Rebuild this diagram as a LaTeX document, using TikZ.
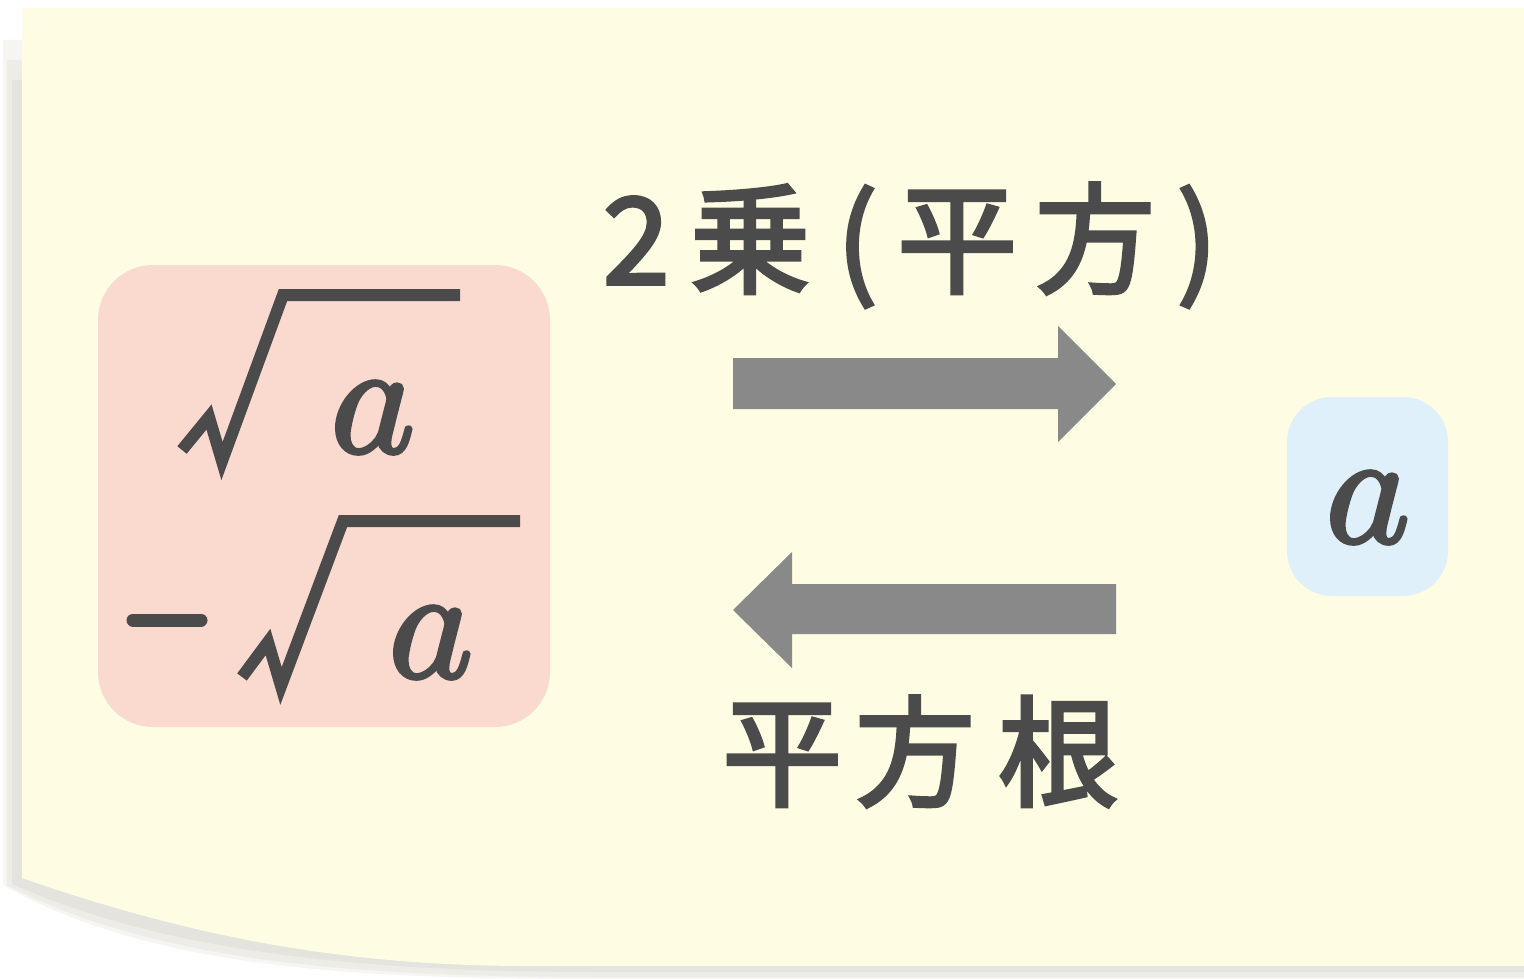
\documentclass[tikz,border=0pt]{standalone}
\usepackage{fontspec}
\newfontfamily\cjk[FakeBold=3]{Noto Sans CJK JP}
\newfontfamily\lmm[FakeBold=2.6]{Latin Modern Math}
\definecolor{paper}{HTML}{FEFCE3}
\definecolor{shadowA}{HTML}{E4E3DD}
\definecolor{shadowB}{HTML}{EDECE7}
\definecolor{shadowC}{HTML}{F6F5F2}
\definecolor{pinkbox}{HTML}{FAD9CF}
\definecolor{bluebox}{HTML}{DFF0FA}
\definecolor{ink}{HTML}{4B4B4B}
\definecolor{arrowgray}{HTML}{898989}
\tikzset{
  radical/.style={draw=ink, line width=12pt, line join=miter, miter limit=20},
  minusbar/.style={draw=ink, line width=13pt, line cap=round},
  var/.style={inner sep=0pt, text=ink, font=\lmm\fontsize{160}{160}\selectfont},
  jp/.style={inner sep=0pt, text=ink, font=\cjk\fontsize{120}{120}\selectfont},
  bigarrow/.style={fill=arrowgray, draw=none},
}
\begin{document}
\begin{tikzpicture}[x=1pt,y=-1pt]
\useasboundingbox (0,0) rectangle (1524,979);
\fill[white] (0,0) rectangle (1524,979);
% shadow
\fill[shadowC] (3,40) -- (3,885) .. controls (150,968) and (350,979) .. (600,979) -- (1524,979) -- (1524,40) -- cycle;
\fill[shadowB] (7,60) -- (7,885) .. controls (155,962) and (355,977) .. (600,977) -- (1524,977) -- (1524,60) -- cycle;
\fill[shadowA] (12,80) -- (12,884) .. controls (165,952) and (360,972) .. (600,972) -- (1524,972) -- (1524,80) -- cycle;
% paper
\fill[paper] (22,8) -- (1524,8) -- (1524,966) -- (520,966) .. controls (350,965) and (200,940) .. (22,878) -- cycle;
% boxes
\fill[pinkbox, rounded corners=55pt] (98,265) rectangle (550,727);
\fill[bluebox, rounded corners=45pt] (1287,397) rectangle (1448,596);
% left: sqrt a and -sqrt a
\draw[radical] (182,450) -- (209,417) -- (222,461) -- (283,295) -- (460,295);
\node[var, anchor=base] (a1) at (373,452) {𝑎};
\draw[minusbar] (133,620) -- (201,620);
\draw[radical] (242,677) -- (268,642) -- (281,686) -- (343,521) -- (520,521);
\node[var, anchor=base] (a2) at (431,677) {𝑎};
% right: a
\node[var, anchor=base] (a3) at (1368,542) {𝑎};
% arrows
\fill[bigarrow] (733,358) -- (1058,358) -- (1058,326) -- (1116,384) -- (1058,442) -- (1058,409) -- (733,409) -- cycle;
\fill[bigarrow] (1116,584) -- (792,584) -- (792,552) -- (733,610) -- (792,668) -- (792,634) -- (1116,634) -- cycle;
% labels
\node[jp, anchor=base west] (sq) at (636,284) {\makebox[0pt]{2}\hspace{114pt}\makebox[0pt]{乗}\hspace{107pt}\makebox[0pt]{(}\hspace{100pt}\makebox[0pt]{平}\hspace{138pt}\makebox[0pt]{方}\hspace{102pt}\makebox[0pt]{)}};
\node[jp, anchor=base west] (rt) at (782,797) {\makebox[0pt]{平}\hspace{133pt}\makebox[0pt]{方}\hspace{143pt}\makebox[0pt]{根}};
\end{tikzpicture}
\end{document}
